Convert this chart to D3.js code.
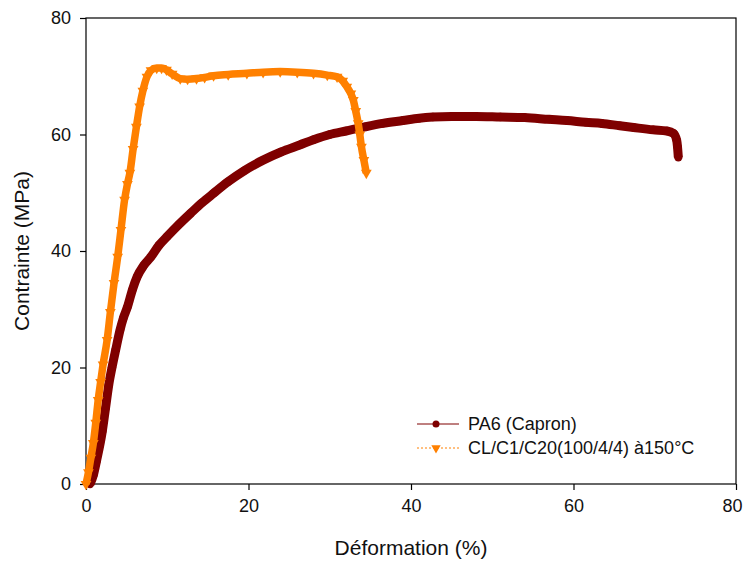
<!DOCTYPE html>
<html>
<head>
<meta charset="utf-8">
<script src="https://cdn.jsdelivr.net/npm/d3@7"></script>
<style>
  body { margin: 0; background: #fff; }
  svg text { font-family: "Liberation Sans", Arial, sans-serif; fill: #111; }
</style>
</head>
<body>
<svg id="chart" width="744" height="561"></svg>
<script>
// PA6 (Capron) - strain (%), stress (MPa)
const pa6X = [0.5, 0.9, 1.3, 2.0, 2.4, 2.8, 3.2, 3.65, 4.2, 4.6, 5.1, 5.7, 6.3, 7.1, 8.0, 9.0, 10.0, 11.4, 12.9, 14.3,
  15.7, 17.5, 19.5, 21.8, 24.0, 26.3, 28.0, 30.0, 32.0, 34.3, 36.5, 39.0, 41.0, 42.7, 45.0, 48.0, 51.0, 54.0, 57.0, 59.2,
  61.5, 63.5, 65.7, 67.4, 69.8, 71.5, 72.3, 72.7, 72.8, 72.9];
const pa6Y = [0, 1.5, 4.0, 9.0, 13.0, 17.0, 20.0, 23.0, 26.5, 28.5, 30.4, 33.3, 35.6, 37.5, 39.0, 41.0, 42.5, 44.5, 46.5, 48.3,
  49.9, 51.9, 53.8, 55.6, 57.0, 58.2, 59.1, 60.0, 60.6, 61.3, 61.9, 62.4, 62.8, 63.0, 63.1, 63.1, 63.0, 62.9, 62.6, 62.4,
  62.1, 61.9, 61.5, 61.2, 60.8, 60.6, 60.2, 59.0, 57.9, 56.1];

// CL/C1/C20(100/4/4) a 150 C
const clX = [0.0, 0.3, 0.6, 0.9, 1.2, 1.5, 1.8, 2.1, 2.6, 3.0, 3.45, 3.9, 4.3, 4.75, 5.1, 5.4, 5.8, 6.2, 6.6, 7.0,
  7.5, 8.0, 8.7, 9.3, 9.9, 10.6, 11.6, 12.5, 13.6, 14.6, 15.7, 17.5, 19.8, 21.8, 23.9, 26.0, 28.0, 29.7, 30.9, 31.6,
  32.1, 32.6, 32.9, 33.2, 33.5, 33.7, 33.9, 34.2, 34.5];
const clY = [0.0, 2.0, 4.5, 7.0, 10.5, 14.4, 17.5, 20.5, 24.7, 29.5, 34.5, 39.0, 43.6, 48.8, 51.5, 53.4, 57.5, 61.3, 64.8, 67.5,
  69.9, 71.0, 71.4, 71.4, 71.1, 70.4, 69.6, 69.5, 69.6, 69.8, 70.1, 70.3, 70.5, 70.7, 70.8, 70.7, 70.5, 70.2, 69.9, 69.2,
  68.2, 67.0, 65.9, 64.0, 61.9, 60.0, 57.9, 55.6, 53.4];

const xTicks = [0, 20, 40, 60, 80];
const yTicks = [0, 20, 40, 60, 80];
const seriesNames = ['PA6 (Capron)', 'CL/C1/C20(100/4/4) à150°C'];

const margin = {top: 18, left: 86},
  width = 650,
  height = 466;

const svg = d3.select('#chart');
const g = svg.append('g').attr('transform', `translate(${margin.left},${margin.top})`);

const x = d3.scaleLinear().domain([0, 80]).range([0, width]);
const y = d3.scaleLinear().domain([0, 80]).range([height, 0]);

const colPA6 = '#7f0000';
const colCL = '#ff8000';

// frame
g.append('rect')
  .attr('width', width).attr('height', height)
  .attr('fill', 'none').attr('stroke', '#000').attr('stroke-width', 1.2);

// axes
const xAxis = g.append('g')
  .attr('transform', `translate(0,${height})`)
  .call(d3.axisBottom(x).tickValues(xTicks).tickSize(6).tickPadding(9));
const yAxis = g.append('g')
  .call(d3.axisLeft(y).tickValues(yTicks).tickSize(6).tickPadding(9));
[xAxis, yAxis].forEach(a => {
  a.select('.domain').remove();
  a.selectAll('line').attr('stroke', '#000').attr('stroke-width', 1.2);
  a.selectAll('text').attr('font-size', 18).attr('font-family', '"Liberation Sans", Arial, sans-serif').attr('fill', '#111');
});
// last x label sits against the page edge
xAxis.selectAll('.tick').filter(d => d === 80).select('text').attr('dx', -4);

const tri = d3.symbol().type(d3.symbolTriangle).size(50);

const pa6 = pa6X.map((v, i) => ({x: v, y: pa6Y[i]}));
const cl = clX.map((v, i) => ({x: v, y: clY[i]}));
const line = d3.line().curve(d3.curveMonotoneX).x(d => x(d.x)).y(d => y(d.y));

// PA6 series
g.append('path').datum(pa6)
  .attr('d', line).attr('fill', 'none')
  .attr('stroke', colPA6).attr('stroke-width', 9).attr('stroke-linejoin', 'round');
g.selectAll('.pa6').data(pa6).enter().append('circle')
  .attr('class', 'pa6')
  .attr('cx', d => x(d.x)).attr('cy', d => y(d.y)).attr('r', 4.2)
  .attr('fill', colPA6);

// CL series
g.append('path').datum(cl)
  .attr('d', line).attr('fill', 'none')
  .attr('stroke', colCL).attr('stroke-width', 7.5).attr('stroke-linejoin', 'round');
g.selectAll('.cl').data(cl).enter().append('path')
  .attr('class', 'cl')
  .attr('d', tri)
  .attr('transform', d => `translate(${x(d.x)},${y(d.y)}) rotate(180)`)
  .attr('fill', colCL);

// legend
const legTri = d3.symbol().type(d3.symbolTriangle).size(38);
const leg = g.append('g').attr('transform', 'translate(331,406)');
leg.append('line').attr('x1', 0).attr('x2', 42).attr('y1', 0).attr('y2', 0)
  .attr('stroke', colPA6).attr('stroke-width', 1);
leg.append('circle').attr('cx', 19).attr('cy', 0).attr('r', 3.5).attr('fill', colPA6);
leg.append('line').attr('x1', 0).attr('x2', 42).attr('y1', 24).attr('y2', 24)
  .attr('stroke', colCL).attr('stroke-width', 1).attr('stroke-dasharray', '2,2');
leg.append('path').attr('d', legTri).attr('transform', 'translate(19,24) rotate(180)').attr('fill', colCL);
leg.selectAll('.lt').data(seriesNames).enter().append('text')
  .attr('x', 51).attr('y', (d, i) => i * 24 + 6)
  .attr('font-size', 18)
  .text(d => d);

// axis titles
svg.append('text')
  .attr('x', margin.left + width / 2).attr('y', 555)
  .attr('text-anchor', 'middle').attr('font-size', 21)
  .text('Déformation (%)');
svg.append('text')
  .attr('transform', `translate(29,${margin.top + height / 2}) rotate(-90)`)
  .attr('text-anchor', 'middle').attr('font-size', 21)
  .text('Contrainte (MPa)');
</script>
</body>
</html>
